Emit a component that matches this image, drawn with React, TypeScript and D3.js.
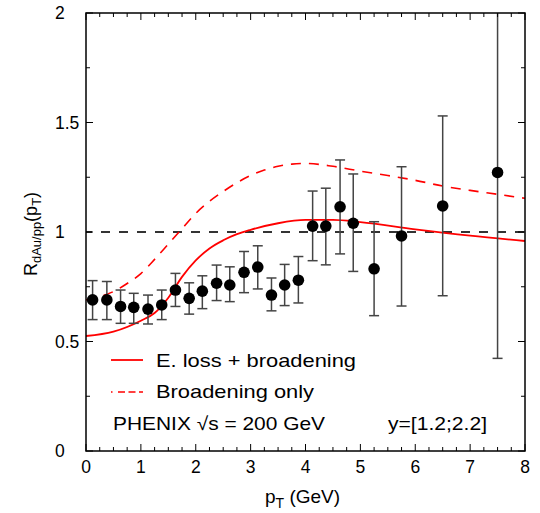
import React from "react";
import * as d3 from "d3";

const ptData = [0.12, 0.38, 0.63, 0.87, 1.13, 1.38, 1.63, 1.88, 2.12, 2.38, 2.62, 2.88, 3.13, 3.38, 3.62, 3.87, 4.13, 4.37, 4.63, 4.87, 5.25, 5.75, 6.5, 7.5];
const rData = [0.69, 0.69, 0.66, 0.656, 0.648, 0.667, 0.735, 0.697, 0.73, 0.766, 0.758, 0.816, 0.84, 0.712, 0.758, 0.78, 1.027, 1.027, 1.115, 1.04, 0.832, 0.982, 1.119, 1.272];
const errHi = [0.778, 0.774, 0.735, 0.72, 0.712, 0.735, 0.811, 0.768, 0.8, 0.849, 0.841, 0.911, 0.937, 0.79, 0.852, 0.888, 1.187, 1.2, 1.329, 1.265, 1.047, 1.298, 1.53, 2.0];
const errLo = [0.60, 0.6, 0.583, 0.583, 0.58, 0.6, 0.66, 0.625, 0.65, 0.687, 0.682, 0.723, 0.74, 0.64, 0.664, 0.676, 0.869, 0.85, 0.9, 0.82, 0.618, 0.662, 0.709, 0.423];

const solidX = [0, 0.5, 1.0, 1.25, 1.5, 1.75, 2.0, 2.25, 2.5, 2.75, 3.0, 3.5, 4.0, 4.5, 5.0, 6.0, 7.0, 8.0];
const solidY = [0.525, 0.545, 0.595, 0.63, 0.70, 0.795, 0.87, 0.925, 0.962, 0.99, 1.01, 1.04, 1.055, 1.055, 1.045, 1.012, 0.983, 0.959];

const dashX = [0, 0.25, 0.5, 0.75, 1.0, 1.25, 1.5, 1.75, 2.0, 2.25, 2.5, 2.75, 3.0, 3.25, 3.5, 3.75, 4.0, 4.5, 5.0, 5.5, 6.0, 6.5, 7.0, 7.5, 8.0];
const dashY = [0.69, 0.705, 0.728, 0.765, 0.81, 0.875, 0.945, 1.015, 1.085, 1.14, 1.185, 1.225, 1.258, 1.283, 1.30, 1.31, 1.313, 1.30, 1.278, 1.258, 1.236, 1.21, 1.19, 1.172, 1.154];

const xTicks = [0, 1, 2, 3, 4, 5, 6, 7, 8];
const yTicks = [0, 0.5, 1, 1.5, 2];
const yTickLabels = ["0", "0.5", "1", "1.5", "2"];

const FONT = "'Liberation Sans', Arial, Helvetica, sans-serif";

export default function App() {
  const x = d3.scaleLinear().domain([0, 8]).range([86, 525]);
  const y = d3.scaleLinear().domain([0, 2]).range([451, 13]);

  const xMinor = d3.range(0, 8.001, 0.25).filter((v) => Math.abs(v - Math.round(v)) > 1e-6);
  const yMinor = d3.range(0, 2.001, 0.25).filter((v) => Math.abs(v * 2 - Math.round(v * 2)) > 1e-6);

  const line = d3
    .line<[number, number]>()
    .x((d) => x(d[0]))
    .y((d) => y(d[1]))
    .curve(d3.curveMonotoneX);

  const solidPath = line(solidX.map((v, i) => [v, solidY[i]]) as [number, number][]) || "";
  const dashPath = line(dashX.map((v, i) => [v, dashY[i]]) as [number, number][]) || "";

  const x0 = x(0), x1 = x(8), yTop = y(2), yBot = y(0);
  const maj = 7, min = 4;

  return (
    <svg width={540} height={513} style={{ position: "absolute", left: 0, top: 0, background: "#fff" }} fontFamily={FONT}>
      <defs>
        <clipPath id="plot">
          <rect x={x0} y={yTop} width={x1 - x0} height={yBot - yTop} />
        </clipPath>
      </defs>
      {/* reference line y = 1 */}
      <line x1={x0} x2={x1} y1={y(1)} y2={y(1)} stroke="#333" strokeWidth={2} strokeDasharray="9,9" strokeDashoffset={3} />
      {/* model curves */}
      <g clipPath="url(#plot)">
        <path d={dashPath} fill="none" stroke="#ff0000" strokeWidth={1.6} strokeDasharray="10,8" />
        <path d={solidPath} fill="none" stroke="#ff0000" strokeWidth={1.8} />
      </g>
      {/* error bars */}
      <g stroke="#444" strokeWidth={1.5}>
        {ptData.map((p, i) => (
          <g key={i}>
            <line x1={x(p)} x2={x(p)} y1={y(errHi[i])} y2={y(errLo[i])} />
            {errHi[i] < 2 && <line x1={x(p) - 5} x2={x(p) + 5} y1={y(errHi[i])} y2={y(errHi[i])} />}
            <line x1={x(p) - 5} x2={x(p) + 5} y1={y(errLo[i])} y2={y(errLo[i])} />
          </g>
        ))}
      </g>
      {/* points */}
      {ptData.map((p, i) => (
        <circle key={i} cx={x(p)} cy={y(rData[i])} r={5.8} fill="#000" />
      ))}
      {/* frame */}
      <rect x={x0} y={yTop} width={x1 - x0} height={yBot - yTop} fill="none" stroke="#000" strokeWidth={1.5} />
      {/* ticks */}
      <g stroke="#000" strokeWidth={1}>
        {xTicks.map((t) => (
          <g key={"xt" + t}>
            <line x1={x(t)} x2={x(t)} y1={yBot} y2={yBot - maj} />
            <line x1={x(t)} x2={x(t)} y1={yTop} y2={yTop + maj} />
          </g>
        ))}
        {xMinor.map((t) => (
          <g key={"xm" + t}>
            <line x1={x(t)} x2={x(t)} y1={yBot} y2={yBot - min} />
            <line x1={x(t)} x2={x(t)} y1={yTop} y2={yTop + min} />
          </g>
        ))}
        {yTicks.map((t) => (
          <g key={"yt" + t}>
            <line x1={x0} x2={x0 + maj} y1={y(t)} y2={y(t)} />
            <line x1={x1} x2={x1 - maj} y1={y(t)} y2={y(t)} />
          </g>
        ))}
        {yMinor.map((t) => (
          <g key={"ym" + t}>
            <line x1={x0} x2={x0 + min} y1={y(t)} y2={y(t)} />
            <line x1={x1} x2={x1 - min} y1={y(t)} y2={y(t)} />
          </g>
        ))}
      </g>
      {/* tick labels */}
      <g fontSize={17.5} fill="#000">
        {xTicks.map((t) => (
          <text key={"xl" + t} x={x(t)} y={473} textAnchor="middle">
            {String(t)}
          </text>
        ))}
        {yTicks.map((t, i) => (
          <text key={"yl" + t} x={55} y={y(t) + 6} textAnchor="start">
            {yTickLabels[i]}
          </text>
        ))}
      </g>
      {/* axis titles */}
      <text x={265} y={503} fontSize={19} fill="#000">
        p<tspan fontSize={14} dy={5}>T</tspan>
        <tspan dy={-5}> (GeV)</tspan>
      </text>
      <text transform="rotate(-90)" x={-234} y={37} fontSize={18} textAnchor="middle" fill="#000">
        R<tspan fontSize={13} dy={4}>dAu/pp</tspan>
        <tspan dy={-4}>(p</tspan>
        <tspan fontSize={13} dy={4}>T</tspan>
        <tspan dy={-4}>)</tspan>
      </text>
      {/* legend */}
      <line x1={111} x2={143} y1={360} y2={360} stroke="#ff0000" strokeWidth={1.8} />
      <line x1={111} x2={143} y1={392} y2={392} stroke="#ff0000" strokeWidth={1.6} strokeDasharray="1.5,5.5,7,3.5,7,3.5,7" />
      <g fontSize={19} fill="#000">
        <text x={156} y={367} textLength={200} lengthAdjust="spacingAndGlyphs">E. loss + broadening</text>
        <text x={156} y={398} textLength={158} lengthAdjust="spacingAndGlyphs">Broadening only</text>
        <text x={113} y={430} textLength={212} lengthAdjust="spacingAndGlyphs">PHENIX √s = 200 GeV</text>
        <text x={388} y={430} textLength={99} lengthAdjust="spacingAndGlyphs">y=[1.2;2.2]</text>
      </g>
    </svg>
  );
}
